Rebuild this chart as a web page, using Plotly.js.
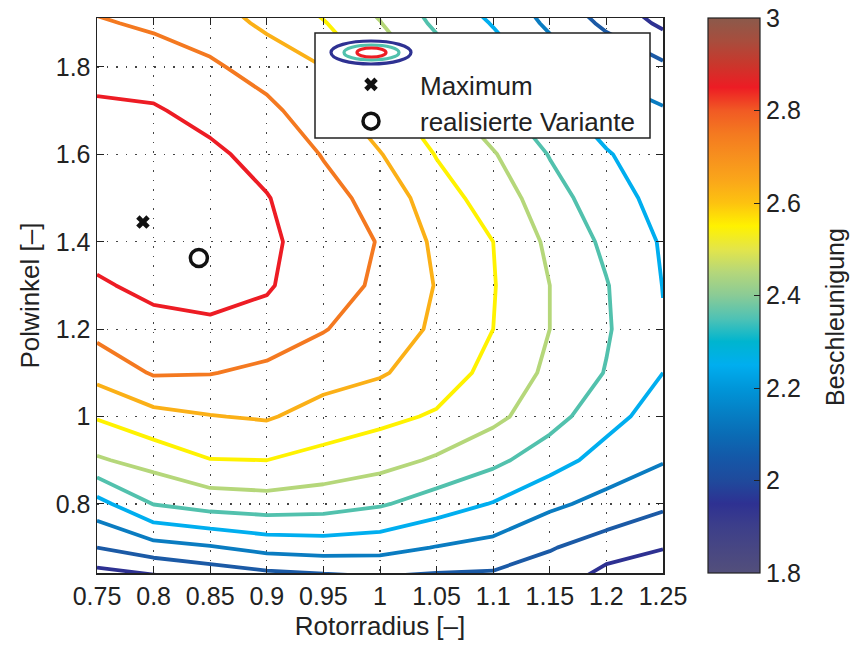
<!DOCTYPE html>
<html>
<head>
<meta charset="utf-8">
<script src="https://cdn.plot.ly/plotly-3.0.1.min.js"></script>
<style>html,body{margin:0;padding:0;background:#fff;}#chart{width:850px;height:645px;}</style>
</head>
<body>
<div id="chart"></div>
<script>
// Rotor radius grid (x) and pole angle grid (y)
var rotorRadius = [0.75, 0.80, 0.85, 0.90, 0.95, 1.00, 1.05, 1.10, 1.15, 1.20, 1.25];
var polwinkel = [0.6, 0.7, 0.8, 0.9, 1.0, 1.1, 1.2, 1.3, 1.4, 1.5, 1.6, 1.7, 1.8, 1.9, 2.0];
// Beschleunigung, one row per Polwinkel value
var row060 = [1.83, 1.85, 1.90, 1.93, 1.95, 1.98, 1.98, 1.99, 1.97, 1.86, 1.82];
var row070 = [2.05, 2.11, 2.14, 2.183, 2.197, 2.187, 2.145, 2.117, 2.057, 2.004, 1.955];
var row080 = [2.213, 2.353, 2.394, 2.407, 2.395, 2.361, 2.302, 2.244, 2.17, 2.119, 2.07];
var row090 = [2.438, 2.4875, 2.547, 2.55, 2.517, 2.488, 2.437, 2.375, 2.293, 2.21, 2.157];
var row100 = [2.558, 2.62, 2.646, 2.66, 2.61, 2.575, 2.539, 2.475, 2.39, 2.285, 2.203];
var row110 = [2.683, 2.759, 2.754, 2.725, 2.69, 2.66, 2.60, 2.52, 2.43, 2.345, 2.25];
var row120 = [2.78, 2.825, 2.84, 2.815, 2.755, 2.70, 2.635, 2.55, 2.45, 2.36, 2.255];
var row130 = [2.84, 2.87, 2.87, 2.86, 2.79, 2.735, 2.645, 2.555, 2.45, 2.355, 2.248];
var row140 = [2.88, 2.90, 2.89, 2.87, 2.80, 2.745, 2.63, 2.55, 2.43, 2.33, 2.24];
var row150 = [2.89, 2.90, 2.89, 2.855, 2.78, 2.72, 2.59, 2.51, 2.39, 2.295, 2.215];
var row160 = [2.88, 2.89, 2.87, 2.815, 2.745, 2.655, 2.545, 2.458, 2.345, 2.258, 2.19];
var row170 = [2.865, 2.86, 2.817, 2.773, 2.693, 2.587, 2.493, 2.382, 2.285, 2.197, 2.16];
var row180 = [2.82, 2.80, 2.765, 2.71, 2.65, 2.519, 2.415, 2.308, 2.214, 2.13, 2.07];
var row190 = [2.76, 2.735, 2.70, 2.63, 2.557, 2.454, 2.33, 2.244, 2.13, 2.03, 1.93];
var row200 = [2.70, 2.67, 2.635, 2.56, 2.47, 2.39, 2.26, 2.18, 2.05, 1.93, 1.82];

// Contour levels and their line colours
var levelStart = 1.95, levelEnd = 2.85, levelStep = 0.1;
var levelColors = ['#2e3192', '#1b5aa6', '#0a7cc1', '#00aeef', '#52c1ad',
                   '#b5d77a', '#fff200', '#fbb017', '#f47920', '#ed1c24'];

// Marked points
var maxPoint = {x: [0.7906], y: [1.445]};
var variantePoint = {x: [0.840], y: [1.363]};

// Tick labels
var xTickVals = [0.75, 0.8, 0.85, 0.9, 0.95, 1, 1.05, 1.1, 1.15, 1.2, 1.25];
var xTickText = ['0.75', '0.8', '0.85', '0.9', '0.95', '1', '1.05', '1.1', '1.15', '1.2', '1.25'];
var yTickVals = [0.8, 1, 1.2, 1.4, 1.6, 1.8];
var yTickText = ['0.8', '1', '1.2', '1.4', '1.6', '1.8'];
var cTickVals = [1.8, 2, 2.2, 2.4, 2.6, 2.8, 3];
var cTickText = ['1.8', '2', '2.2', '2.4', '2.6', '2.8', '3'];

var Z = [row060, row070, row080, row090, row100, row110, row120, row130, row140, row150, row160, row170, row180, row190, row200];

var cmap = [
  [0.000, '#534f7b'], [0.083, '#3d3f8a'], [0.125, '#2e3192'], [0.167, '#1f4a9c'],
  [0.208, '#1458a8'], [0.250, '#0a6cb5'], [0.292, '#0581c6'], [0.333, '#0096d9'],
  [0.375, '#00aeef'], [0.417, '#00b5cf'], [0.458, '#4ec2b5'], [0.500, '#8acb96'],
  [0.542, '#b5d77a'], [0.583, '#e3e54a'], [0.625, '#fff200'], [0.667, '#fdc210'],
  [0.708, '#faa61a'], [0.750, '#f7901e'], [0.792, '#f47920'], [0.833, '#f15a24'],
  [0.875, '#ed1c24'], [0.917, '#c9372c'], [0.958, '#a84d3d'], [1.000, '#8b5a4b']
];

var lineScale = levelColors.map(function (c, i) { return [i / (levelColors.length - 1), c]; });

var FONT = '"Liberation Sans", Arial, Helvetica, sans-serif';
var TXT = '#222';

var traces = [
  {
    type: 'heatmap', x: rotorRadius, y: polwinkel, z: Z,
    zmin: 1.8, zmax: 3, colorscale: cmap, opacity: 0, hoverinfo: 'skip',
    showlegend: false, showscale: true,
    colorbar: {
      x: 1.0795, xanchor: 'left', xref: 'paper', y: 0.5, yanchor: 'middle',
      len: 1, lenmode: 'fraction', thickness: 52, thicknessmode: 'pixels',
      xpad: 0, ypad: 0, outlinewidth: 1.2, outlinecolor: '#222',
      tickvals: cTickVals, ticktext: cTickText, ticks: 'inside', ticklen: 6, tickcolor: '#222',
      tickfont: {family: FONT, size: 25, color: TXT}
    }
  },
  {
    type: 'contour', x: rotorRadius, y: polwinkel, z: Z,
    colorscale: lineScale, showscale: false, showlegend: false,
    autocontour: false,
    contours: {start: levelStart, end: levelEnd, size: levelStep, coloring: 'lines'},
    line: {width: 3.8, smoothing: 0}
  },
  {
    type: 'scatter', mode: 'markers', name: 'Maximum',
    x: maxPoint.x, y: maxPoint.y,
    marker: {symbol: 'x', size: 12, color: '#111', line: {width: 0}}
  },
  {
    type: 'scatter', mode: 'markers', name: 'realisierte Variante',
    x: variantePoint.x, y: variantePoint.y,
    marker: {symbol: 'circle-open', size: 17, color: '#111', line: {width: 3.5, color: '#111'}}
  }
];

function px2x(p) { return (p - 97) / 566; }
function px2y(p) { return (573 - p) / 555; }

var shapes = [
  {type: 'rect', xref: 'paper', yref: 'paper', x0: px2x(315), x1: px2x(650), y0: px2y(138), y1: px2y(33),
   fillcolor: '#fff', line: {color: '#222', width: 1.5}, layer: 'above'},
  {type: 'circle', xref: 'paper', yref: 'paper', x0: px2x(331), x1: px2x(411), y0: px2y(64), y1: px2y(41),
   line: {color: '#2e3192', width: 3.2}, layer: 'above'},
  {type: 'circle', xref: 'paper', yref: 'paper', x0: px2x(344), x1: px2x(399), y0: px2y(60), y1: px2y(45),
   line: {color: '#52c1ad', width: 3.2}, layer: 'above'},
  {type: 'circle', xref: 'paper', yref: 'paper', x0: px2x(357), x1: px2x(386), y0: px2y(57), y1: px2y(48),
   line: {color: '#ed1c24', width: 3.2}, layer: 'above'}
];

var layout = {
  width: 850, height: 645,
  margin: {l: 97, r: 187, t: 18, b: 72, pad: 0},
  paper_bgcolor: '#fff', plot_bgcolor: '#fff',
  font: {family: FONT, size: 25, color: TXT},
  xaxis: {
    range: [0.75, 1.25], tickvals: xTickVals, ticktext: xTickText,
    ticks: 'inside', ticklen: 7, tickcolor: '#222', showline: true, linecolor: '#222', linewidth: 1.5,
    mirror: 'ticks', showgrid: true, gridcolor: '#444', griddash: '1.5px,8px', gridwidth: 1.2, zeroline: false,
    tickfont: {family: FONT, size: 25, color: TXT},
    title: {text: 'Rotorradius [–]', font: {family: FONT, size: 26, color: TXT}, standoff: 8}
  },
  yaxis: {
    range: [0.642, 1.912], tickvals: yTickVals, ticktext: yTickText,
    ticks: 'inside', ticklen: 7, tickcolor: '#222', showline: true, linecolor: '#222', linewidth: 1.5,
    mirror: 'ticks', showgrid: true, gridcolor: '#444', griddash: '1.5px,8px', gridwidth: 1.2, zeroline: false,
    tickfont: {family: FONT, size: 25, color: TXT},
    title: {text: 'Polwinkel [–]', font: {family: FONT, size: 26, color: TXT}, standoff: 8}
  },
  showlegend: true,
  legend: {
    x: px2x(322), xanchor: 'left', y: px2y(61), yanchor: 'top',
    bgcolor: 'rgba(0,0,0,0)', borderwidth: 0, itemwidth: 88,
    font: {family: FONT, size: 26, color: TXT}, tracegroupgap: 0
  },
  annotations: [
    {text: 'Beschleunigung', xref: 'paper', yref: 'paper', x: px2x(835), y: px2y(317),
     xanchor: 'center', yanchor: 'middle', textangle: -90, showarrow: false,
     font: {family: FONT, size: 25, color: TXT}}
  ],
  shapes: shapes
};

Plotly.newPlot('chart', traces, layout, {displayModeBar: false, staticPlot: true});
</script>
</body>
</html>
